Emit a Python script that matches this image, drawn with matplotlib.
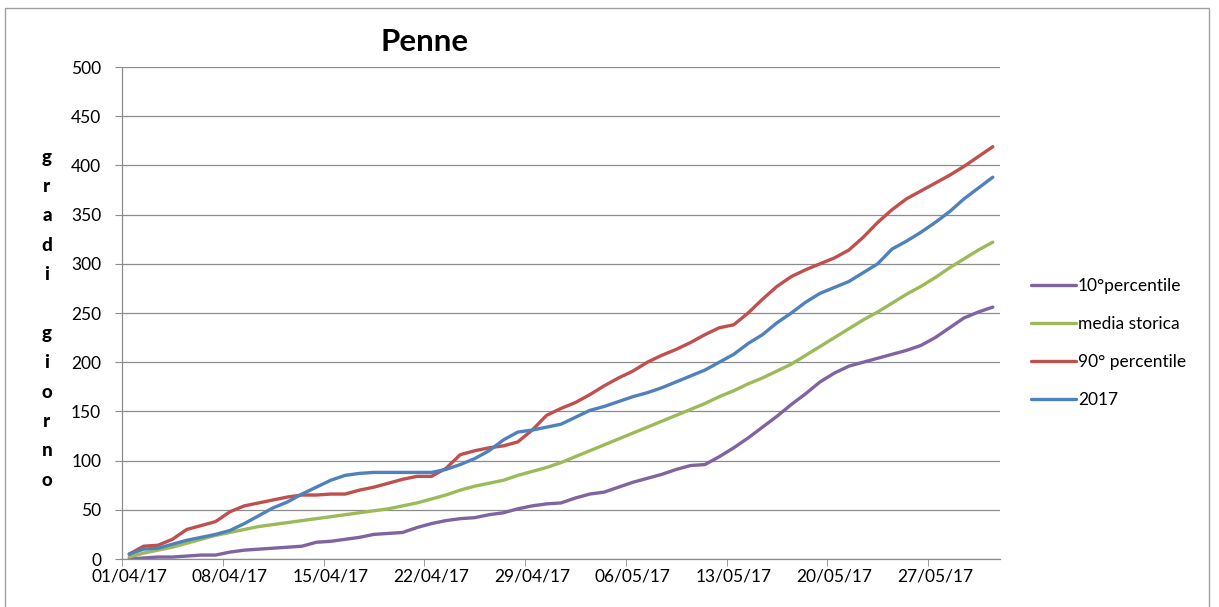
import pandas as pd
import matplotlib
matplotlib.use("Agg")
import matplotlib.pyplot as plt
import matplotlib.dates as mdates
import matplotlib.patches as mpatches

plt.rcParams['font.family'] = ['Lato', 'DejaVu Sans']

# daily values 01/04/17 .. 31/05/17
dates = pd.date_range('2017-04-01', '2017-05-31', freq='D')

p10 = [0, 1, 2, 2, 3, 4, 4, 7, 9, 10, 11, 12, 13, 17, 18, 20, 22, 25, 26, 27,
       32, 36, 39, 41, 42, 45, 47, 51, 54, 56, 57, 62, 66, 68, 73, 78, 82, 86, 91, 95,
       96, 104, 113, 123, 134, 145, 157, 168, 180, 189, 196, 200, 204, 208, 212, 217,
       225, 235, 245, 251, 256]
media = [2, 6, 9, 12, 16, 20, 24, 27, 30, 33, 35, 37, 39, 41, 43, 45, 47, 49, 51, 54,
         57, 61, 65, 70, 74, 77, 80, 85, 89, 93, 98, 104, 110, 116, 122, 128, 134, 140,
         146, 152, 158, 165, 171, 178, 184, 191, 198, 207, 216, 225, 234, 243, 251, 260,
         269, 277, 286, 296, 305, 314, 322]
p90 = [5, 13, 14, 20, 30, 34, 38, 48, 54, 57, 60, 63, 65, 65, 66, 66, 70, 73, 77, 81,
       84, 84, 92, 106, 110, 113, 115, 119, 131, 146, 153, 159, 167, 176, 184, 191, 200,
       207, 213, 220, 228, 235, 238, 250, 264, 277, 287, 294, 300, 306, 314, 327, 342,
       355, 366, 374, 382, 390, 399, 409, 419]
y2017 = [5, 10, 11, 15, 19, 22, 25, 29, 36, 44, 52, 58, 66, 73, 80, 85, 87, 88, 88, 88,
         88, 88, 91, 96, 102, 110, 121, 129, 131, 134, 137, 144, 151, 155, 160, 165, 169,
         174, 180, 186, 192, 200, 208, 219, 228, 240, 250, 261, 270, 276, 282, 291, 300,
         315, 323, 332, 342, 353, 366, 377, 388]

series = [
    ('10°percentile', p10, '#8064A2'),
    ('media storica', media, '#9BBB59'),
    ('90° percentile', p90, '#C0504D'),
    ('2017', y2017, '#4F81BD'),
]

tick_dates = pd.date_range('2017-04-01', '2017-05-27', freq='7D')
tick_labels = [d.strftime('%d/%m/%y') for d in tick_dates]

grigio = '#8c8c8c'
W, H = 1219, 607
fig = plt.figure(figsize=(W / 100, H / 100), dpi=100)
ax = fig.add_axes([122 / W, 1 - 559 / H, (1000 - 122) / W, (559 - 67) / H])

x = mdates.date2num(dates)
for name, vals, col in series:
    ax.plot(x, vals, color=col, lw=2.4, label=name, solid_capstyle='round')

ax.set_xlim(x[0] - 0.5, x[-1] + 0.5)
ax.set_ylim(0, 500)
ax.set_yticks(range(0, 501, 50))

xt = mdates.date2num(tick_dates)
ax.set_xticks(xt)
ax.set_xticklabels(tick_labels)
ax.set_xticks(xt - 0.5, minor=True)
ax.tick_params(axis='x', which='major', length=0, pad=7, labelsize=12.5)
ax.tick_params(axis='x', which='minor', length=5, color=grigio, direction='out')
ax.tick_params(axis='y', length=5, color=grigio, pad=10, labelsize=12.5)

ax.grid(axis='y', color=grigio, lw=0.9)
ax.set_axisbelow(True)
for s in ['top', 'right']:
    ax.spines[s].set_visible(False)
for s in ['left', 'bottom']:
    ax.spines[s].set_color(grigio)
    ax.spines[s].set_linewidth(0.9)

fig.text(425 / W, 1 - 42 / H, 'Penne', fontsize=22.5, fontweight='bold',
         ha='center', va='center')

# y label written as stacked letters
etichetta = 'gradi giorno'
for i, ch in enumerate(etichetta):
    if ch == ' ':
        continue
    yy = 157 + i * 29.4
    fig.text(47 / W, 1 - yy / H, ch, fontsize=13.5, fontweight='black',
             ha='center', va='center')

fig.legend(loc='upper left', bbox_to_anchor=(1024 / W, 1 - 271 / H), frameon=False,
           fontsize=12.5, handlelength=2.6, handletextpad=0.1, labelspacing=1.27,
           borderaxespad=0)

fig.patches.append(mpatches.Rectangle((5 / W, -0.02), (1209 - 5) / W, 1 - 8 / H + 0.02,
                                      transform=fig.transFigure, fill=False,
                                      edgecolor='#a0a0a0', lw=1))

plt.savefig('out.png', dpi=100)
